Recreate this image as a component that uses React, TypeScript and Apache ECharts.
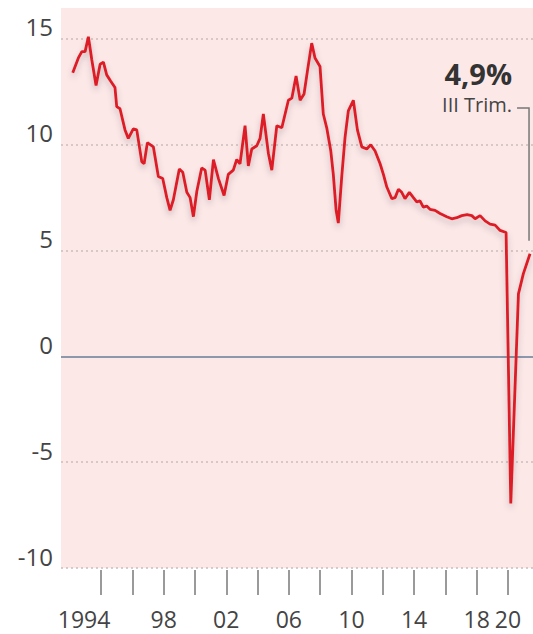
import { useEffect, useRef } from "react";
import * as echarts from "echarts";

// Decimal year of each reading and the value in %
const dates = [
  1992.19, 1992.55, 1992.77, 1992.98, 1993.19, 1993.41, 1993.68, 1993.94,
  1994.15, 1994.36, 1994.62, 1994.89, 1995.0, 1995.21, 1995.53, 1995.74,
  1996.06, 1996.28, 1996.6, 1996.75, 1996.96, 1997.34, 1997.66, 1997.94,
  1998.2, 1998.41, 1998.62, 1999.0, 1999.22, 1999.48, 1999.69, 1999.9,
  2000.12, 2000.43, 2000.65, 2000.92, 2001.18, 2001.5, 2001.86, 2002.13,
  2002.45, 2002.67, 2002.88, 2003.2, 2003.41, 2003.63, 2003.95, 2004.16,
  2004.37, 2004.69, 2004.91, 2005.23, 2005.55, 2005.97, 2006.19, 2006.46,
  2006.72, 2006.97, 2007.19, 2007.46, 2007.67, 2007.99, 2008.2, 2008.42,
  2008.68, 2008.84, 2009.02, 2009.16, 2009.38, 2009.59, 2009.8, 2010.12,
  2010.38, 2010.66, 2010.98, 2011.23, 2011.51, 2011.83, 2012.04, 2012.26,
  2012.58, 2012.79, 2013.0, 2013.21, 2013.42, 2013.7, 2013.96, 2014.17,
  2014.38, 2014.59, 2014.81, 2015.02, 2015.34, 2015.66, 2016.09, 2016.41,
  2016.73, 2017.05, 2017.39, 2017.69, 2017.9, 2018.22, 2018.54, 2018.86,
  2019.18, 2019.5, 2019.88, 2020.18, 2020.67, 2020.98, 2021.41,
];
const values = [
  13.4, 14.1, 14.4, 14.4, 15.1, 14.0, 12.8, 13.8,
  13.9, 13.3, 13.0, 12.7, 11.8, 11.7, 10.7, 10.3,
  10.75, 10.7, 9.2, 9.1, 10.1, 9.9, 8.5, 8.4,
  7.5, 6.9, 7.4, 8.85, 8.7, 7.75, 7.5, 6.6,
  7.8, 8.9, 8.8, 7.4, 9.3, 8.4, 7.6, 8.6,
  8.8, 9.3, 9.1, 10.9, 9.0, 9.8, 9.95, 10.3,
  11.45, 9.6, 8.8, 10.9, 10.8, 12.1, 12.2, 13.25,
  12.1, 12.4, 13.5, 14.8, 14.1, 13.7, 11.45, 10.8,
  9.7, 8.6, 6.9, 6.3, 8.5, 10.35, 11.6, 12.1,
  10.7, 9.9, 9.8, 10.0, 9.7, 9.1, 8.6, 8.0,
  7.45, 7.5, 7.9, 7.75, 7.45, 7.75, 7.5, 7.3,
  7.35, 7.05, 7.1, 6.95, 6.9, 6.75, 6.6, 6.5,
  6.55, 6.65, 6.7, 6.65, 6.5, 6.65, 6.4, 6.25,
  6.2, 5.95, 5.85, -6.95, 2.95, 3.9, 4.85,
];

const yTickValues = [-10, -5, 0, 5, 10, 15];
const dottedLevels = [15, 10, 5, -5, -10];
const zeroLevel = 0;
const xTickValues = [1994, 1996, 1998, 2000, 2002, 2004, 2006, 2008, 2010, 2012, 2014, 2016, 2018, 2020];
const xLabelValues = [1994, 1998, 2002, 2006, 2010, 2014, 2018, 2020];
const xLabelTexts = ["1994", "98", "02", "06", "10", "14", "18", "20"];
const lastValueText = "4,9%";
const lastPeriodText = "III Trim.";

const FONT = '"Open Sans", "DejaVu Sans", sans-serif';

export default function App() {
  const ref = useRef<HTMLDivElement>(null);
  useEffect(() => {
    document.body.style.margin = "0";
    const chart = echarts.init(ref.current!, null, { renderer: "svg" });
    const data = dates.map((d, i) => [d, values[i]]);
    chart.setOption({
      animation: false,
      grid: {
        left: 61,
        right: 0,
        top: 8,
        bottom: 66,
        show: true,
        backgroundColor: "#fde8e8",
        borderWidth: 0,
      },
      xAxis: {
        type: "value",
        min: 1991.44,
        max: 2021.6,
        offset: 2,
        axisLine: { show: false, onZero: false },
        splitLine: { show: false },
        axisTick: {
          show: true,
          customValues: xTickValues,
          length: 25,
          lineStyle: { color: "#9a9a9a", width: 2 },
        },
        axisLabel: {
          customValues: xLabelValues,
          margin: 39,
          fontSize: 23,
          lineHeight: 20,
          color: "#444",
          fontFamily: FONT,
          formatter: (v: number) => {
            const i = xLabelValues.indexOf(Math.round(v));
            if (i < 0) return "";
            return i === 0 ? "{a|" + xLabelTexts[0] + "}" : xLabelTexts[i];
          },
          rich: {
            a: {
              fontSize: 23,
              lineHeight: 20,
              color: "#444",
              fontFamily: FONT,
              padding: [0, 34, 0, 0],
            },
          },
        },
      },
      yAxis: {
        type: "value",
        min: -10,
        max: 16.46,
        interval: 5,
        axisLine: { show: false },
        axisTick: { show: false },
        splitLine: { show: false },
        axisLabel: {
          margin: 8,
          fontSize: 24,
          lineHeight: 24,
          color: "#444",
          fontFamily: FONT,
          verticalAlign: "bottom",
          formatter: (v: number) => (yTickValues.indexOf(v) >= 0 ? String(v) : ""),
        },
      },
      series: [
        {
          type: "line",
          data,
          showSymbol: false,
          silent: true,
          lineStyle: { opacity: 0 },
          z: 1,
          markLine: {
            silent: true,
            symbol: ["none", "none"],
            label: { show: false },
            data: [
              ...dottedLevels.map((v) => ({
                yAxis: v,
                lineStyle: { type: [2, 3], color: "#cbbcbc", width: 1.5 },
              })),
              { yAxis: zeroLevel, lineStyle: { type: "solid", color: "#8d98ad", width: 2 } },
            ],
          },
        },
        {
          type: "line",
          data,
          showSymbol: false,
          z: 5,
          lineStyle: {
            color: "#dc1f26",
            width: 2.8,
            shadowColor: "rgba(0,0,0,0.22)",
            shadowBlur: 6,
            shadowOffsetY: 4,
          },
        },
      ],
    });

    const p = chart.convertToPixel({ gridIndex: 0 }, [
      dates[dates.length - 1],
      values[values.length - 1],
    ]) as number[];
    chart.setOption({
      graphic: [
        {
          type: "text",
          x: p[0] - 18,
          y: 73,
          style: {
            text: lastValueText,
            fontSize: 29,
            fontWeight: "bold",
            fontFamily: FONT,
            fill: "#333",
            align: "right",
            verticalAlign: "middle",
          },
        },
        {
          type: "text",
          x: p[0] - 18,
          y: 104,
          style: {
            text: lastPeriodText,
            fontSize: 20,
            fontFamily: FONT,
            fill: "#444",
            align: "right",
            verticalAlign: "middle",
          },
        },
        {
          type: "polyline",
          shape: {
            points: [
              [p[0] - 13, 108],
              [p[0] - 1, 108],
              [p[0] - 1, p[1] - 13],
            ],
          },
          style: { stroke: "#777", lineWidth: 1.5, fill: "none" },
        },
      ],
    });

    return () => chart.dispose();
  }, []);
  return <div ref={ref} style={{ width: 533, height: 634 }} />;
}
